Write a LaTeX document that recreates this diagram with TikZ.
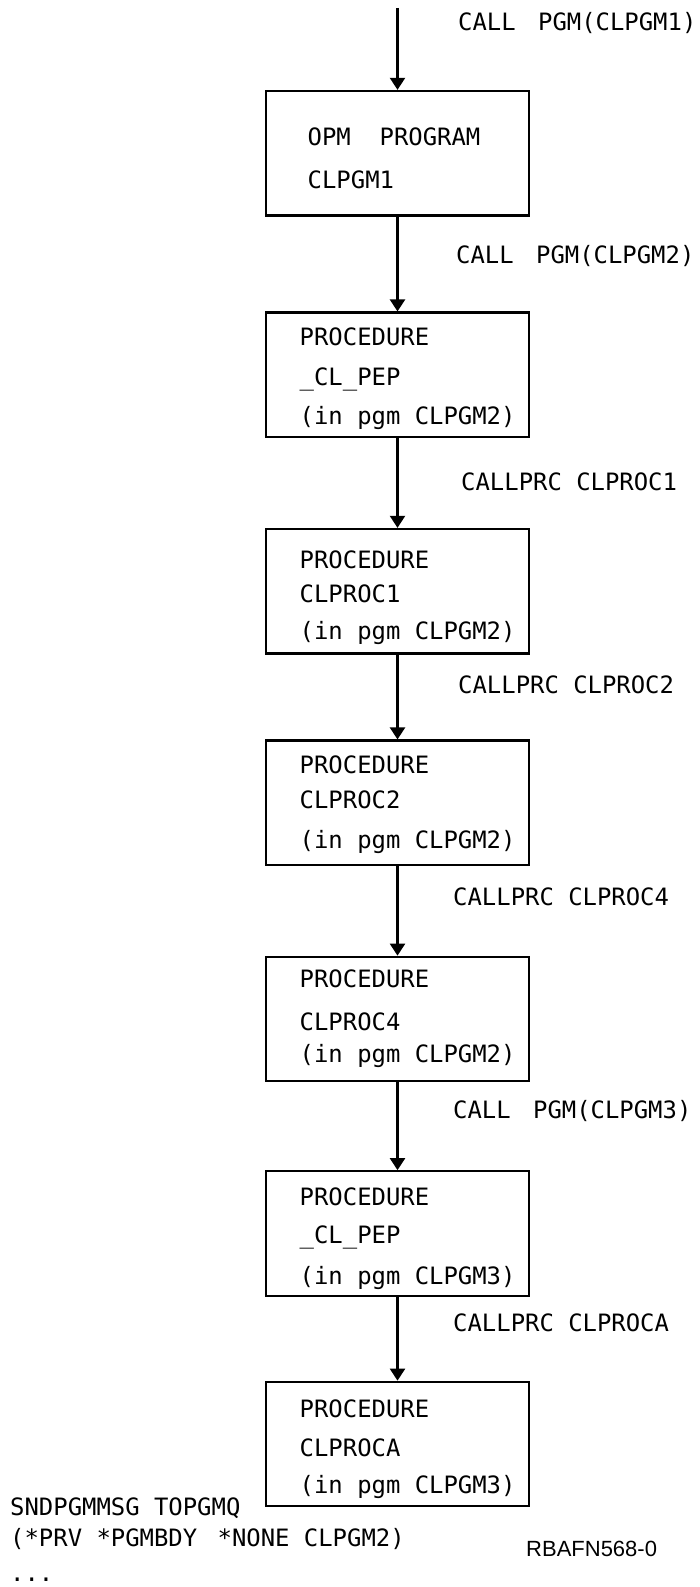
\documentclass[tikz,border=0pt]{standalone}
\usepackage{fontspec}
\newfontfamily\pixfont{DejaVu Sans Mono}
\newfontfamily\idfont{Liberation Sans}
\usetikzlibrary{arrows.meta}
\begin{document}
\begin{tikzpicture}[x=1pt,y=-1pt,
  box/.style={draw, line width=2.2pt, minimum width=263pt, minimum height=124.5pt, inner sep=0pt},
  txt/.style={anchor=west, inner sep=0pt, text height=17.4pt, text depth=0pt, font=\pixfont\fontsize{23.9}{28}\selectfont},
  idtxt/.style={anchor=west, inner sep=0pt, text height=16pt, text depth=0pt, font=\idfont\fontsize{22}{26}\selectfont},
  conn/.style={line width=2.2pt, -{Triangle[width=15pt,length=12pt]}}]
\useasboundingbox (0,0) rectangle (700,1587);
\coordinate (top) at (397.5,8);
\node[box] (b1) at (397.5,153.2) {};
\node[box] (b2) at (397.5,374.8) {};
\node[box] (b3) at (397.5,591.2) {};
\node[box] (b4) at (397.5,802.8) {};
\node[box] (b5) at (397.5,1019) {};
\node[box] (b6) at (397.5,1233.5) {};
\node[box] (b7) at (397.5,1444) {};
\draw[conn] (top) -- (b1.north);
\draw[conn] (b1.south) -- (b2.north);
\draw[conn] (b2.south) -- (b3.north);
\draw[conn] (b3.south) -- (b4.north);
\draw[conn] (b4.south) -- (b5.north);
\draw[conn] (b5.south) -- (b6.north);
\draw[conn] (b6.south) -- (b7.north);
% box texts
\node[txt] (t11) at (307.5,136.6) {OPM\ \ PROGRAM};
\node[txt] (t12) at (307.5,180) {CLPGM1};
\node[txt] (t21) at (299.5,336.8) {PROCEDURE};
\node[txt] (t22) at (299.5,376.3) {\_CL\_PEP};
\node[txt] (t23) at (299.5,415.7) {(in pgm CLPGM2)};
\node[txt] (t31) at (299.5,559.4) {PROCEDURE};
\node[txt] (t32) at (299.5,593.8) {CLPROC1};
\node[txt] (t33) at (299.5,631.2) {(in pgm CLPGM2)};
\node[txt] (t41) at (299.5,764.7) {PROCEDURE};
\node[txt] (t42) at (299.5,800) {CLPROC2};
\node[txt] (t43) at (299.5,839.6) {(in pgm CLPGM2)};
\node[txt] (t51) at (299.5,979.2) {PROCEDURE};
\node[txt] (t52) at (299.5,1021.6) {CLPROC4};
\node[txt] (t53) at (299.5,1054) {(in pgm CLPGM2)};
\node[txt] (t61) at (299.5,1196.6) {PROCEDURE};
\node[txt] (t62) at (299.5,1235) {\_CL\_PEP};
\node[txt] (t63) at (299.5,1275.5) {(in pgm CLPGM3)};
\node[txt] (t71) at (299.5,1409) {PROCEDURE};
\node[txt] (t72) at (299.5,1447.5) {CLPROCA};
\node[txt] (t73) at (299.5,1485) {(in pgm CLPGM3)};
% connector labels
\node[txt] (l1) at (458,22) {CALL\hspace{8pt} PGM(CLPGM1)};
\node[txt] (l2) at (456,255) {CALL\hspace{8pt} PGM(CLPGM2)};
\node[txt] (l3) at (461,481.5) {CALLPRC CLPROC1};
\node[txt] (l4) at (458,685) {CALLPRC CLPROC2};
\node[txt] (l5) at (453,897) {CALLPRC CLPROC4};
\node[txt] (l6) at (453,1109.5) {CALL\hspace{8pt} PGM(CLPGM3)};
\node[txt] (l7) at (453,1323) {CALLPRC CLPROCA};
% bottom texts
\node[txt] (s1) at (10,1507) {SNDPGMMSG TOPGMQ};
\node[txt] (s2) at (10,1537.5) {(*PRV *PGMBDY\hspace{6pt} *NONE CLPGM2)};
\node[txt] (s3) at (10,1573) {...};
\node[idtxt] (id) at (526,1548) {RBAFN568-0};
\end{tikzpicture}
\end{document}
